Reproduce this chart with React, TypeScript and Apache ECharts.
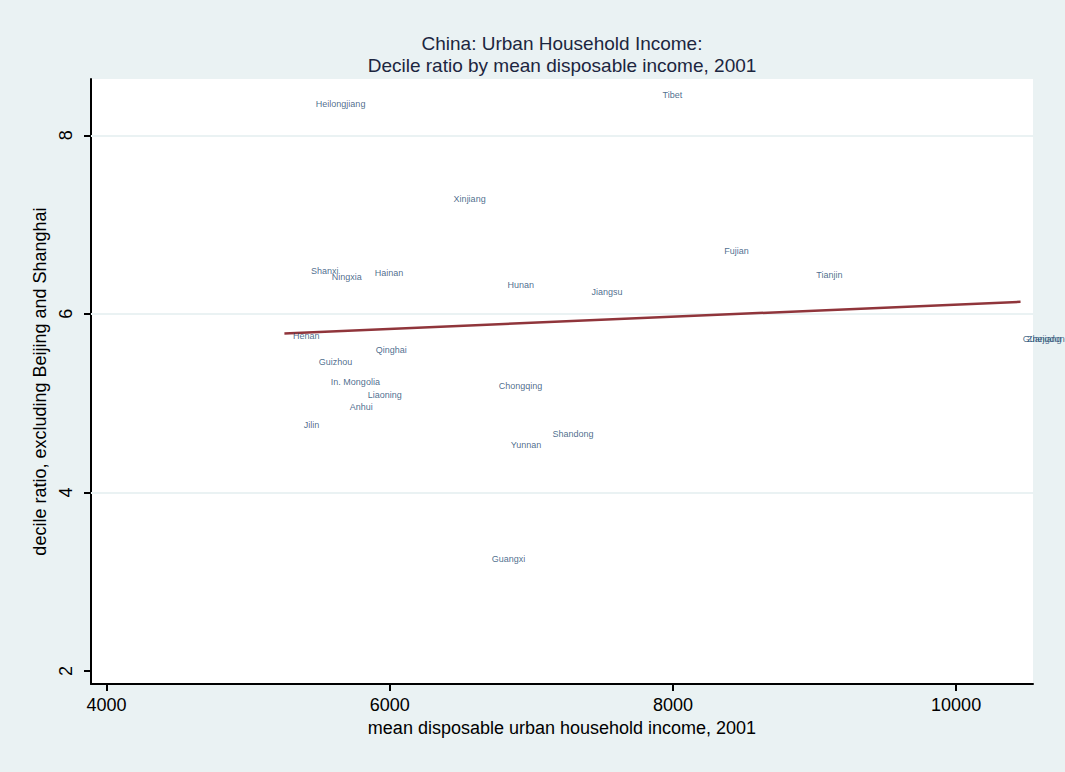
import React, { useEffect, useRef } from "react";
import * as echarts from "echarts";

const provinces = [
  "Heilongjiang", "Tibet", "Xinjiang", "Fujian", "Shanxi", "Ningxia", "Hainan",
  "Tianjin", "Hunan", "Jiangsu", "Henan", "Qinghai", "Guizhou", "In. Mongolia",
  "Liaoning", "Anhui", "Jilin", "Chongqing", "Shandong", "Yunnan", "Guangxi",
  "Guangdong", "Zhejiang",
];
const income = [
  5418, 7866, 6391, 8303, 5383, 5531, 5834,
  8952, 6772, 7365, 5256, 5841, 5439, 5524,
  5785, 5658, 5333, 6709, 7090, 6794, 6660,
  10410, 10440,
];
const decileRatio = [
  8.35, 8.45, 7.29, 6.705, 6.48, 6.41, 6.46,
  6.44, 6.325, 6.25, 5.75, 5.59, 5.46, 5.24,
  5.09, 4.96, 4.76, 5.19, 4.66, 4.53, 3.25,
  5.72, 5.72,
];
const fitX = [5256, 10455];
const fitY = [5.78, 6.135];
const xTicks = [4000, 6000, 8000, 10000];
const yTicks = [2, 4, 6, 8];
const yGrid = [4, 6, 8];

const titleText = "China: Urban Household Income:\nDecile ratio by mean disposable income, 2001";
const xTitle = "mean disposable urban household income, 2001";
const yTitle = "decile ratio, excluding Beijing and Shanghai";

const BG = "#eaf2f3";
const FONT = "Liberation Sans, Arial, sans-serif";

export default function App() {
  const ref = useRef<HTMLDivElement>(null);
  useEffect(() => {
    if (!ref.current) return;
    const chart = echarts.init(ref.current, null, { renderer: "svg" });
    const points = provinces.map((p, i) => [income[i], decileRatio[i], p]);
    chart.setOption({
      animation: false,
      backgroundColor: BG,
      textStyle: { fontFamily: FONT },
      title: {
        text: titleText,
        left: 562,
        top: 32,
        padding: 0,
        textAlign: "center",
        textStyle: {
          fontFamily: FONT,
          fontSize: 19,
          fontWeight: "normal",
          color: "#1c2640",
          lineHeight: 22,
        },
      },
      grid: {
        left: 91,
        right: 32,
        top: 79,
        bottom: 88,
        show: true,
        backgroundColor: "#ffffff",
        borderWidth: 0,
      },
      xAxis: {
        type: "value",
        min: 3890,
        max: 10543,
        name: xTitle,
        nameLocation: "middle",
        nameGap: 34,
        nameTextStyle: { fontSize: 18, color: "#000", fontFamily: FONT },
        axisLine: { show: true, onZero: false, lineStyle: { color: "#000", width: 2 } },
        axisTick: { show: true, length: 7, customValues: xTicks, lineStyle: { color: "#000", width: 2 } },
        axisLabel: {
          customValues: xTicks,
          margin: 12,
          fontSize: 18,
          color: "#000",
          fontFamily: FONT,
          formatter: (v: number) => String(v),
        },
        splitLine: { show: false },
      },
      yAxis: {
        type: "value",
        min: 1.855,
        max: 8.63,
        name: yTitle,
        nameLocation: "middle",
        nameGap: 37,
        nameRotate: 90,
        nameTextStyle: { fontSize: 18, color: "#000", fontFamily: FONT },
        axisLine: { show: true, onZero: false, lineStyle: { color: "#000", width: 2 } },
        axisTick: { show: true, length: 7, customValues: yTicks, lineStyle: { color: "#000", width: 2 } },
        axisLabel: {
          customValues: yTicks,
          rotate: 90,
          margin: 16,
          fontSize: 18,
          color: "#000",
          fontFamily: FONT,
          formatter: (v: number) => String(v),
        },
        splitLine: { show: false },
      },
      series: [
        {
          type: "line",
          data: fitX.map((x, i) => [x, fitY[i]]),
          symbol: "none",
          lineStyle: { color: "#90353b", width: 2.5 },
          z: 3,
          markLine: {
            silent: true,
            symbol: "none",
            label: { show: false },
            lineStyle: { color: BG, width: 2, type: "solid" },
            data: yGrid.map((y) => ({ yAxis: y })),
            z: 1,
          },
        },
        {
          type: "scatter",
          data: points,
          symbolSize: 1,
          itemStyle: { color: "rgba(0,0,0,0)" },
          label: {
            show: true,
            position: "right",
            distance: 8,
            formatter: (p: any) => p.data[2],
            fontSize: 9,
            color: "#1a476f",
            fontFamily: FONT,
          },
          z: 4,
        },
      ],
    });
    return () => chart.dispose();
  }, []);
  return (
    <div
      ref={ref}
      style={{ position: "absolute", left: 0, top: 0, width: 1065, height: 772 }}
    />
  );
}
